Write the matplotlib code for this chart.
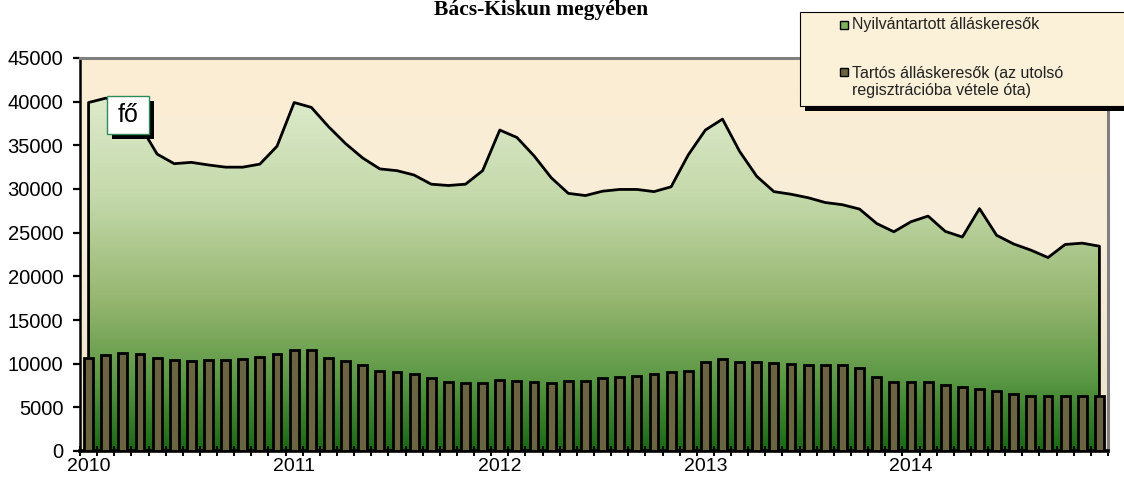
import numpy as np
import matplotlib
matplotlib.use("Agg")
import matplotlib.pyplot as plt
from matplotlib.colors import LinearSegmentedColormap
from matplotlib.patches import Rectangle, PathPatch

# ----------------------------------------------------------------------
# Data: monthly jobseekers, Jan 2010 - Dec 2014
# ----------------------------------------------------------------------
years = [2010, 2011, 2012, 2013, 2014]

registered = [
    39900, 40400, 40000, 37300, 34000, 32900, 33050, 32750, 32500, 32500, 32850, 34900,
    39900, 39350, 37150, 35200, 33550, 32300, 32100, 31600, 30550, 30400, 30550, 32100,
    36750, 35900, 33800, 31300, 29500, 29250, 29750, 29950, 29950, 29700, 30250, 33900,
    36750, 38000, 34300, 31450, 29700, 29400, 29000, 28450, 28200, 27700, 26050, 25100,
    26250, 26900, 25150, 24500, 27750, 24700, 23700, 23000, 22150, 23650, 23800, 23450,
]

long_term = [
    10650, 10950, 11250, 11050, 10650, 10450, 10250, 10400, 10400, 10550, 10750, 11100,
    11600, 11600, 10650, 10250, 9850, 9200, 9000, 8850, 8400, 7950, 7800, 7800,
    8150, 8000, 7950, 7800, 8000, 8000, 8400, 8450, 8600, 8850, 9000, 9200,
    10200, 10550, 10200, 10200, 10050, 10000, 9850, 9850, 9850, 9500, 8450, 7950,
    7950, 7950, 7600, 7300, 7100, 6850, 6550, 6300, 6300, 6300, 6300, 6300,
]

legend_labels = ["Nyilvántartott álláskeresők",
                 "Tartós álláskeresők (az utolsó\nregisztrációba vétele óta)"]

W, H = 1124, 479
x = np.arange(len(registered))
x0, x1 = -0.5, len(registered) - 0.5
ymax = 45000

fig = plt.figure(figsize=(W / 100, H / 100), dpi=100)
ax = fig.add_axes([80 / W, (H - 451) / H, 1028 / W, 393 / H])


def fig_rect(px, py, pw, ph, **kw):
    """Rectangle in figure pixel coords (origin top-left)."""
    r = Rectangle((px / W, 1 - (py + ph) / H), pw / W, ph / H,
                  transform=fig.transFigure, **kw)
    fig.add_artist(r)
    return r


# plot background: cream gradient
bg_cmap = LinearSegmentedColormap.from_list("bg", ["#EBE0C6", "#F7EDDA", "#FCEED3"])
bg = np.linspace(0, 1, 256).reshape(-1, 1)
ax.imshow(bg, cmap=bg_cmap, extent=[x0, x1, 0, ymax], origin="lower",
          aspect="auto", zorder=0)

# area with green vertical gradient, clipped to its outline
area = ax.fill_between(x, registered, 0, facecolor="none", edgecolor="black",
                       linewidth=2.0, zorder=2)
green = LinearSegmentedColormap.from_list(
    "green", [(0.0, "#1A6814"), (0.2, "#5A9744"), (0.42, "#94B56E"),
              (0.72, "#C4D9AA"), (1.0, "#DCEACB")])
grad = np.linspace(0, 1, 256).reshape(-1, 1)
im = ax.imshow(grad, cmap=green, extent=[x0, x1, 0, max(registered)],
               origin="lower", aspect="auto", zorder=1)
clip = PathPatch(area.get_paths()[0], transform=ax.transData,
                 facecolor="none", edgecolor="none")
ax.add_patch(clip)
im.set_clip_path(clip)

# long-term jobseekers bars
ax.bar(x, long_term, width=0.52, color="#6B6443", edgecolor="black",
       linewidth=2.0, zorder=3)

ax.set_xlim(x0, x1)
ax.set_ylim(0, ymax)

# axes styling
ax.spines["left"].set_color("black")
ax.spines["left"].set_linewidth(1.8)
ax.spines["bottom"].set_color("black")
ax.spines["bottom"].set_linewidth(2.6)
for s in ("top", "right"):
    ax.spines[s].set_color("#808080")
    ax.spines[s].set_linewidth(2.2)

ax.set_yticks(np.arange(0, ymax + 1, 5000))
ax.tick_params(axis="y", length=5, width=1.6, pad=7, labelsize=14.5)
ax.set_xticks([x[12 * k] for k in range(len(years))])
ax.set_xticklabels([str(yr) for yr in years])
ax.set_xticks(np.arange(x0, x1 + 0.01, 1), minor=True)
ax.tick_params(axis="x", which="major", length=0, pad=5, labelsize=14)
ax.tick_params(axis="x", which="minor", length=7, width=1.4, direction="inout")
for lab in ax.get_xticklabels() + ax.get_yticklabels():
    lab.set_fontfamily("Liberation Sans")

# title at the very top edge
fig.text(541 / W, 1 - 15 / H, "Bács-Kiskun megyében", ha="center", va="baseline",
         fontsize=15.5, fontweight="bold", family="Liberation Serif")

# "fő" unit box
fig_rect(112, 101, 42, 38, facecolor="black", edgecolor="none", zorder=5)
fig_rect(107, 96, 42, 38, facecolor="white", edgecolor="#2E8B57", linewidth=1.0, zorder=6)
fig.text(128 / W, 1 - 115 / H, "fő", ha="center", va="center", fontsize=18,
         family="Liberation Sans", zorder=7)

# legend box
fig_rect(805, 17, 330, 94, facecolor="black", edgecolor="none", zorder=5)
fig_rect(800, 12, 330, 94, facecolor="#FBF0D8", edgecolor="black", linewidth=0.8, zorder=6)
fig_rect(840, 21, 8, 8, facecolor="#7FB05B", edgecolor="black", linewidth=1.0, zorder=7)
fig_rect(840, 68, 8, 8, facecolor="#6B6443", edgecolor="black", linewidth=1.0, zorder=7)
fig.text(852 / W, 1 - 25 / H, legend_labels[0], ha="left", va="center",
         fontsize=11.5, color="#222222", family="Liberation Sans", zorder=8)
fig.text(852 / W, 1 - 82 / H, legend_labels[1], ha="left", va="center",
         fontsize=11.5, color="#222222", family="Liberation Sans", zorder=8,
         linespacing=1.2)

fig.savefig("out.png", dpi=100)
